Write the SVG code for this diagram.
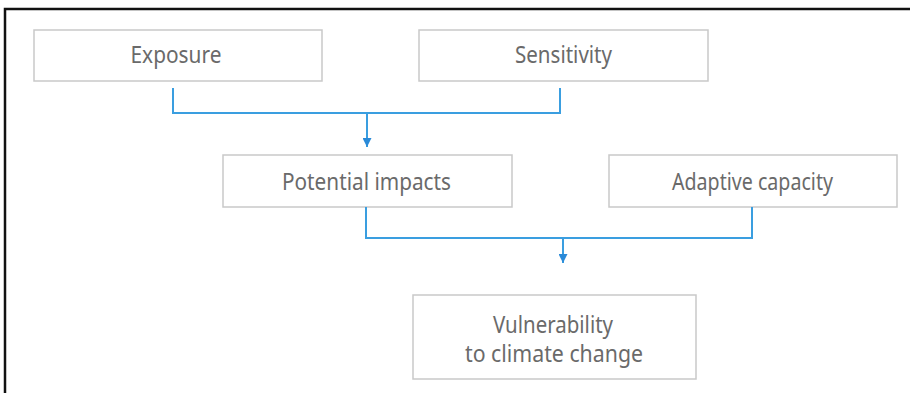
<svg xmlns="http://www.w3.org/2000/svg" width="910" height="393" viewBox="0 0 910 393">
<defs>
<style>
.box{fill:#fff;stroke:#c9c9c9;stroke-width:1.5}
.t{font-family:"Noto Sans","Liberation Sans",sans-serif;font-size:23px;fill:#6a6a6a;text-anchor:middle}
.c{fill:none;stroke:#3a9ee0;stroke-width:2}
</style>
<marker id="ah" viewBox="0 0 10 10" refX="10" refY="5" markerWidth="9" markerHeight="9" markerUnits="userSpaceOnUse" orient="auto">
<path d="M0,0 L10,5 L0,10 z" fill="#2a8ad8"/>
</marker>
</defs>
<rect x="0" y="0" width="910" height="393" fill="#fff"/>
<path d="M5,393 V9 H910" fill="none" stroke="#111" stroke-width="2.5"/>
<g id="exposure">
<rect class="box" x="34" y="30" width="288" height="51"/>
<text class="t" x="176" y="63" textLength="91" lengthAdjust="spacingAndGlyphs">Exposure</text>
</g>
<g id="sensitivity">
<rect class="box" x="419" y="30" width="289" height="51"/>
<text class="t" x="563.5" y="63" textLength="97" lengthAdjust="spacingAndGlyphs">Sensitivity</text>
</g>
<g id="potential">
<rect class="box" x="223" y="155" width="289" height="52"/>
<text class="t" x="366.5" y="190" textLength="169" lengthAdjust="spacingAndGlyphs">Potential impacts</text>
</g>
<g id="adaptive">
<rect class="box" x="609" y="155" width="288" height="52"/>
<text class="t" x="752.5" y="190" textLength="161" lengthAdjust="spacingAndGlyphs">Adaptive capacity</text>
</g>
<g id="vulnerability">
<rect class="box" x="413" y="295" width="283" height="84"/>
<text class="t" x="553" y="333" textLength="120" lengthAdjust="spacingAndGlyphs">Vulnerability</text>
<text class="t" x="554" y="362" textLength="178" lengthAdjust="spacingAndGlyphs">to climate change</text>
</g>
<g id="connectors">
<path class="c" d="M173,88 V113 H560 V88"/>
<path class="c" d="M367,113 V147" marker-end="url(#ah)"/>
<path class="c" d="M366,207 V238 H752 V207"/>
<path class="c" d="M563,238 V263" marker-end="url(#ah)"/>
</g>
</svg>
